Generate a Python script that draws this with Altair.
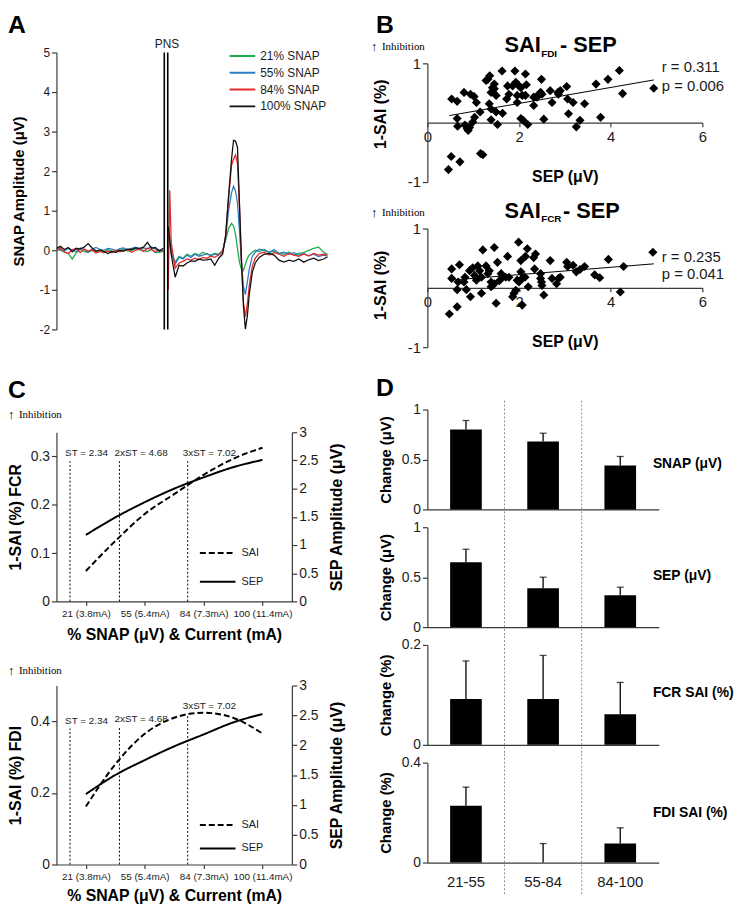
import altair as alt
import pandas as pd

SANS = "Liberation Sans"
SERIF = "Liberation Serif"
INK = "#1b1b1b"
AXC = "#3a3a3a"

# ---------------- Panel A: SNAP traces ----------------
A_TRACES = ["21% SNAP", "55% SNAP", "84% SNAP", "100% SNAP"]
A_COLORS = ["#1faa4b", "#2e7cc4", "#e52a2a", "#111111"]

A_T_PRE = [0.0, 0.4, 0.8, 1.2, 1.6, 2.0, 2.4, 2.8, 3.2, 3.6, 4.0, 4.4, 4.8, 5.2,
           5.6, 6.0, 6.4, 6.8, 7.2, 7.6, 8.0, 8.4, 8.8, 9.2, 9.6, 10.0, 10.4, 10.8]
A_PRE_21 = [0.02, 0.0, -0.05, -0.08, -0.22, -0.06, 0.02, -0.03, -0.06, 0.0, -0.04, -0.02, -0.06, 0.02,
            -0.02, -0.05, -0.01, 0.03, -0.02, 0.0, 0.04, 0.01, 0.0, -0.03, 0.02, -0.06, -0.05, -0.03]
A_PRE_55 = [0.04, 0.02, -0.02, 0.05, 0.01, -0.03, 0.06, 0.02, -0.04, 0.03, 0.07, 0.02, 0.0, 0.05,
            0.03, -0.01, 0.04, 0.06, 0.01, 0.05, 0.08, 0.03, 0.06, 0.04, 0.09, 0.02, -0.02, 0.01]
A_PRE_84 = [0.0, 0.06, -0.04, -0.08, 0.02, 0.04, -0.06, 0.03, -0.02, 0.01, -0.07, -0.03, -0.05, -0.02,
            -0.06, 0.0, -0.04, -0.01, 0.02, -0.05, 0.0, 0.04, -0.03, 0.05, 0.02, -0.04, 0.01, -0.03]
A_PRE_100 = [0.05, 0.10, 0.02, 0.07, -0.04, 0.05, 0.03, 0.08, 0.17, 0.06, -0.02, 0.01, -0.03, -0.08,
             -0.03, -0.05, 0.0, -0.02, 0.03, 0.02, 0.06, 0.05, 0.08, 0.20, 0.05, 0.07, -0.02, 0.05]

A_T_POST = [11.3, 11.45, 11.6, 12.0, 12.4, 12.8, 13.2, 13.6, 14.0, 14.4, 14.8, 15.2, 15.6, 16.0, 16.4,
            16.8, 17.1, 17.4, 17.7, 17.9, 18.1, 18.3, 18.5, 18.7, 18.9, 19.1, 19.3, 19.5, 19.8, 20.1,
            20.5, 21.0, 21.5, 22.0, 22.5, 23.0, 23.5, 24.0, 24.5, 25.0, 25.5, 26.0, 26.5, 27.0, 27.4]
A_POST_21 = [0.3, 0.15, -0.05, -0.3, -0.15, -0.2, -0.1, -0.15, -0.08, -0.12, -0.05, -0.1, -0.12, -0.08, -0.1,
             0.0, 0.25, 0.55, 0.68, 0.62, 0.4, 0.05, -0.3, -0.48, -0.51, -0.35, -0.2, -0.12, -0.05, 0.0,
             -0.03, 0.02, -0.05, -0.02, -0.08, -0.1, -0.05, -0.12, -0.08, -0.06, 0.0, 0.05, 0.08, -0.05, -0.1]
A_POST_55 = [0.4, 0.2, -0.05, -0.35, -0.18, -0.22, -0.12, -0.18, -0.1, -0.15, -0.12, -0.08, -0.14, -0.1, -0.12,
             -0.03, 0.3, 1.0, 1.45, 1.62, 1.5, 1.2, 0.5, -0.3, -0.9, -1.12, -0.8, -0.47, -0.15, -0.05,
             0.03, 0.0, -0.05, 0.02, -0.08, -0.05, -0.1, -0.06, -0.12, -0.08, -0.14, -0.1, -0.16, -0.12, -0.15]
A_POST_84 = [-1.0, 1.52, 0.2, -0.45, -0.32, -0.28, -0.22, -0.25, -0.2, -0.24, -0.18, -0.2, -0.15, -0.18, -0.12,
             -0.05, 0.35, 1.3, 2.15, 2.3, 2.41, 2.2, 1.1, -0.3, -1.3, -1.68, -1.35, -0.88, -0.4, -0.2,
             -0.08, -0.05, -0.12, -0.06, -0.1, -0.15, -0.08, -0.12, -0.15, -0.1, -0.14, -0.08, -0.12, -0.1, -0.12]
A_POST_100 = [0.6, 0.3, -0.1, -0.68, -0.38, -0.40, -0.32, -0.27, -0.28, -0.22, -0.25, -0.24, -0.22, -0.38, -0.20,
              -0.10, 0.37, 1.37, 2.3, 2.78, 2.76, 2.6, 1.2, -0.2, -1.4, -2.0, -1.65, -1.1, -0.55, -0.32,
              -0.18, -0.1, -0.08, -0.12, -0.25, -0.3, -0.25, -0.28, -0.22, -0.3, -0.24, -0.2, -0.26, -0.22, -0.17]
PNS_T = [10.9, 11.25]

# ---------------- Panel B: SAI vs SEP scatter ----------------
B1_SEP = [0.53, 0.65, 0.80, 0.94, 1.02, 1.07, 0.65, 0.66, 0.82, 0.87, 0.92, 0.89, 0.99, 1.03, 1.15, 0.52, 0.71,
          0.46, 1.16, 1.21, 1.28, 1.36, 1.32, 1.46, 1.42, 1.46, 1.39, 1.50, 1.35, 1.39, 1.50, 1.39, 1.53, 1.64,
          1.63, 1.75, 1.78, 1.73, 1.86, 1.93, 1.91, 2.00, 2.04, 1.96, 1.96, 2.07, 2.14, 2.16, 2.14, 2.04, 2.09,
          2.19, 2.32, 2.32, 2.39, 2.43, 2.47, 2.49, 2.50, 2.54, 2.68, 2.72, 2.85, 2.86, 2.90, 3.04, 3.06, 3.08,
          3.18, 3.25, 3.33, 3.43, 3.68, 3.78, 3.94, 4.19, 4.26, 4.94]
B1_SAI = [0.40, 0.36, 0.51, 0.48, 0.44, 0.34, 0.07, -0.06, -0.04, -0.10, -0.08, -0.13, 0.01, 0.09, 0.18, -0.57,
          -0.66, -0.79, -0.52, -0.54, 0.71, 0.79, 0.73, 0.65, 0.59, 0.57, 0.51, 0.46, 0.32, 0.23, 0.18, 0.05,
          -0.03, 0.16, 0.87, 0.62, 0.48, 0.40, 0.62, 0.68, 0.87, 0.62, 0.59, 0.46, 0.34, 0.46, 0.82, 0.64, 0.46,
          0.07, 0.04, -0.03, 0.43, 0.29, 0.43, 0.48, 0.51, 0.73, 0.48, 0.06, 0.54, 0.34, 0.51, 0.48, 0.54, 0.61,
          0.40, 0.15, 0.34, -0.07, 0.04, 0.32, 0.65, 0.09, 0.73, 0.88, 0.49, 0.58]
B1_FIT_X = [0.48, 4.94]
B1_FIT_Y = [0.12, 0.72]
B1_STATS = ["r = 0.311", "p = 0.006"]

B2_SEP = [0.48, 0.65, 0.53, 0.53, 0.70, 0.67, 0.65, 0.82, 0.80, 0.85, 0.92, 0.94, 0.99, 1.03, 1.07, 1.10, 1.14,
          1.18, 1.21, 1.18, 1.28, 1.32, 1.35, 1.39, 1.39, 1.42, 1.46, 1.46, 1.50, 1.53, 1.57, 1.61, 1.64, 1.71,
          1.75, 1.78, 1.86, 1.89, 1.93, 1.96, 1.99, 2.00, 2.04, 2.04, 2.07, 2.07, 2.13, 2.14, 2.18, 2.20, 2.32,
          2.36, 2.34, 2.47, 2.47, 2.49, 2.50, 2.54, 2.68, 2.72, 2.82, 2.86, 2.90, 3.04, 3.06, 3.18, 3.25, 3.33,
          3.43, 3.65, 3.76, 3.95, 4.21, 4.28, 4.92]
B2_SAI = [-0.44, -0.32, 0.32, 0.16, 0.39, 0.10, -0.03, 0.18, 0.10, -0.03, 0.29, -0.15, 0.34, 0.21, 0.13, 0.37,
          0.29, -0.09, 0.64, 0.18, 0.37, 0.24, 0.29, 0.10, 0.02, 0.04, 0.68, 0.07, -0.26, 0.43, 0.12, 0.24, 0.18,
          0.18, 0.53, 0.18, -0.15, -0.09, -0.04, 0.13, 0.77, 0.10, 0.46, 0.27, -0.29, 0.16, 0.18, 0.53, 0.66,
          0.02, 0.51, 0.57, 0.32, 0.24, 0.16, 0.10, 0.04, -0.12, 0.46, 0.16, 0.07, 0.16, 0.18, 0.43, 0.36, 0.38,
          0.27, 0.31, 0.36, 0.22, 0.17, 0.48, -0.07, 0.36, 0.60]
B2_FIT_X = [0.5, 4.94]
B2_FIT_Y = [0.13, 0.405]
B2_STATS = ["r = 0.235", "p = 0.041"]

# ---------------- Panel C: fitted curves ----------------
C_CATS = ["21 (3.8mA)", "55 (5.4mA)", "84 (7.3mA)", "100 (11.4mA)"]
C_X = [0, 0.5, 1, 1.5, 2, 2.5, 3]
C1_SAI = [0.063, 0.125, 0.181, 0.222, 0.262, 0.295, 0.318]
C1_SEP = [1.18, 1.49, 1.76, 2.0, 2.2, 2.38, 2.51]
C2_SAI = [0.162, 0.28, 0.365, 0.41, 0.424, 0.41, 0.366]
C2_SEP = [1.18, 1.5, 1.75, 1.98, 2.18, 2.38, 2.52]
ST_LABELS = ["ST = 2.34", "2xST = 4.68", "3xST = 7.02"]
ST_POS = [-0.27, 0.57, 1.73]
C1_ST_TOP = [0.29, 0.29, 0.29]
C2_ST_TOP = [0.38, 0.385, 0.42]

# ---------------- Panel D: change bars ----------------
D_CATS = ["21-55", "55-84", "84-100"]
D_SNAP = [0.80, 0.68, 0.44]
D_SNAP_SE = [0.09, 0.083, 0.09]
D_SEP = [0.65, 0.39, 0.32]
D_SEP_SE = [0.13, 0.11, 0.08]
D_FCR = [0.092, 0.092, 0.061]
D_FCR_SE = [0.076, 0.087, 0.064]
D_FDI = [0.227, 0.0, 0.076]
D_FDI_SE = [0.075, 0.076, 0.063]


def txt(text, x, y, size, weight="normal", font=SANS, align="left", baseline="alphabetic", color=INK):
    return alt.Chart(pd.DataFrame({"s": [text]})).mark_text(
        font=font, fontSize=size, fontWeight=weight, align=align, baseline=baseline, color=color
    ).encode(x=alt.value(x), y=alt.value(y), text="s:N")


def letter(ch, x, y):
    return txt(ch, x, y, 25, "bold", color="#000")


def inhib(x, y):
    return [txt("↑", x, y + 1, 13, "bold", font=SANS, color="#000"),
            txt("Inhibition", x + 11, y, 11, font=SERIF, color="#000")]


def spacer(h, w=1):
    return alt.Chart(pd.DataFrame({"v": [0]})).mark_point(opacity=0).encode(
        x=alt.X("v:Q", axis=None), y=alt.Y("v:Q", axis=None)).properties(width=w, height=h)


# ---------- build A ----------
rows = []
for name, pre, post in zip(A_TRACES, [A_PRE_21, A_PRE_55, A_PRE_84, A_PRE_100],
                           [A_POST_21, A_POST_55, A_POST_84, A_POST_100]):
    for t, v in zip(A_T_PRE, pre):
        rows.append({"t": t, "v": v, "trace": name, "seg": name + " pre"})
    for t, v in zip(A_T_POST, post):
        rows.append({"t": t, "v": v, "trace": name, "seg": name + " post"})
df_a = pd.DataFrame(rows)

a_lines = alt.Chart(df_a).mark_line(strokeWidth=1.3, clip=True).encode(
    x=alt.X("t:Q", scale=alt.Scale(domain=[0, 28], nice=False, zero=False), axis=None),
    y=alt.Y("v:Q", scale=alt.Scale(domain=[-2, 5], nice=False),
            axis=alt.Axis(values=list(range(-2, 6)), labelExpr="'' + datum.value", labelFontSize=12,
                          tickSize=5, labelPadding=2, title="SNAP Amplitude (μV)", titleFontSize=15,
                          titleFontWeight="bold", titleX=-30, titleBaseline="bottom")),
    color=alt.Color("trace:N", scale=alt.Scale(domain=A_TRACES, range=A_COLORS),
                    legend=alt.Legend(title=None, orient="none", legendX=174, legendY=-3,
                                      symbolType="stroke", symbolSize=676, symbolStrokeWidth=2,
                                      clipHeight=13, rowPadding=4, labelFontSize=12, labelFont=SANS,
                                      labelColor=INK, labelOffset=4, padding=0)),
    detail="seg:N",
)
a_pns = alt.Chart(pd.DataFrame({"t": PNS_T})).mark_rule(color="#000", strokeWidth=1.6).encode(x="t:Q")
a_pns_lbl = alt.Chart(pd.DataFrame({"t": [sum(PNS_T) / 2], "s": ["PNS"]})).mark_text(
    font=SANS, fontSize=12, color=INK, baseline="middle", dx=1
).encode(x="t:Q", y=alt.value(-9), text="s:N")
panel_a = alt.layer(a_lines, a_pns, a_pns_lbl, letter("A", -49, -20)).properties(width=280, height=280)


# ---------- build B ----------
def panel_b(xs, ys, fx, fy, stats, stats_y, sub, sub_x, ytitle_y, extra):
    pts = pd.DataFrame({"sep": xs, "sai": ys})
    fit = pd.DataFrame({"sep": fx, "sai": fy})
    xenc = alt.X("sep:Q", scale=alt.Scale(domain=[0, 6], nice=False),
                 axis=alt.Axis(values=[0, 2, 4, 6], offset=-60, labelFlush=False, labelFontSize=15,
                               tickSize=4, labelPadding=3, title="SEP (μV)", titleFontSize=16,
                               titleFontWeight="bold", titleY=54, titleBaseline="middle"))
    yenc = alt.Y("sai:Q", scale=alt.Scale(domain=[-1, 1], nice=False),
                 axis=alt.Axis(values=[-1, 1], labelExpr="'' + datum.value", labelFontSize=15,
                               tickSize=5, labelPadding=2, title="1-SAI (%)", titleFontSize=16,
                               titleFontWeight="bold", titleX=-39, titleY=ytitle_y,
                               titleBaseline="bottom"))
    dots = alt.Chart(pts).mark_point(shape="diamond", filled=True, size=85, color="#000",
                                     opacity=1).encode(x=xenc, y=yenc)
    line = alt.Chart(fit).mark_line(color="#000", strokeWidth=1).encode(x="sep:Q", y="sai:Q")
    return alt.layer(
        dots, line,
        txt("SAI", 78, -11, 22, "bold", color="#000"),
        txt(sub, 115, -6.5, 10, "bold", color="#000"),
        txt("- SEP", sub_x, -11, 22, "bold", color="#000"),
        txt(stats[0], 237, stats_y[0], 15, baseline="middle"),
        txt(stats[1], 237, stats_y[1], 15, baseline="middle"),
        *extra,
    ).properties(width=278, height=120)


panel_b1 = panel_b(B1_SEP, B1_SAI, B1_FIT_X, B1_FIT_Y, B1_STATS, [4, 23], "FDI", 134, 51,
                   [letter("B", -52, -31)] + inhib(-57, -13))
panel_b2 = panel_b(B2_SEP, B2_SAI, B2_FIT_X, B2_FIT_Y, B2_STATS, [29, 46], "FCR", 137, 57,
                   inhib(-57, -13))


# ---------- build C ----------
def panel_c(sai, sep, st_top, left_title, ymax, yvals, h, leg_y, leg_pad, xtitle_y, extra):
    cat_expr = "[" + ", ".join("'" + c + "'" for c in C_CATS) + "][datum.value]"
    xsc = alt.Scale(domain=[-0.5, 3.5], nice=False, zero=False)
    xax = alt.Axis(values=[0, 1, 2, 3], labelExpr=cat_expr, labelFontSize=10, tickSize=4, labelPadding=3,
                   title="% SNAP (μV) & Current (mA)", titleFontSize=16, titleFontWeight="bold",
                   titleY=xtitle_y, titleBaseline="middle")
    ysc = alt.Scale(domain=[0, ymax], nice=False)
    yax = alt.Axis(values=yvals, format="~g", labelFontSize=14, tickSize=5, labelPadding=2,
                   title=left_title, titleFontSize=16, titleFontWeight="bold", titleX=-33,
                   titleBaseline="bottom")
    dash = alt.StrokeDash(
        "series:N", scale=alt.Scale(domain=["SAI", "SEP"], range=[[6, 3], [1, 0]]),
        legend=alt.Legend(title=None, orient="none", legendX=144, legendY=leg_y, symbolType="stroke",
                          symbolSize=1296, symbolStrokeWidth=2, symbolStrokeColor="#000",
                          clipHeight=13, rowPadding=leg_pad, labelFontSize=11, labelFont=SANS,
                          labelColor=INK, labelOffset=5, padding=0))
    st = pd.DataFrame({"pos": ST_POS, "base": [0.0] * len(ST_POS), "top": st_top, "label": ST_LABELS})
    rules = alt.Chart(st).mark_rule(color="#000", strokeWidth=1, strokeDash=[2, 2]).encode(
        x=alt.X("pos:Q", scale=xsc, axis=xax), y=alt.Y("base:Q", scale=ysc, axis=yax), y2="top:Q")
    labels = alt.Chart(st).mark_text(font=SANS, fontSize=10, color=INK, align="left", baseline="middle",
                                     dx=-5, dy=-8).encode(x="pos:Q", y="top:Q", text="label:N")
    sai_df = pd.DataFrame({"pos": C_X, "sai": sai, "series": ["SAI"] * len(C_X)})
    sai_line = alt.Chart(sai_df).mark_line(color="#000", strokeWidth=2, interpolate="monotone").encode(
        x="pos:Q", y="sai:Q", strokeDash=dash)
    sep_df = pd.DataFrame({"pos": C_X, "sep": sep, "series": ["SEP"] * len(C_X)})
    sep_line = alt.Chart(sep_df).mark_line(color="#000", strokeWidth=2, interpolate="monotone").encode(
        x="pos:Q",
        y=alt.Y("sep:Q", scale=alt.Scale(domain=[0, 3], nice=False),
                axis=alt.Axis(orient="right", values=[0, 0.5, 1, 1.5, 2, 2.5, 3], format="~g",
                              labelFontSize=14, tickSize=5, labelPadding=2, title="SEP Amplitude (μV)",
                              titleFontSize=16, titleFontWeight="bold", titleAngle=270, titleX=53,
                              titleBaseline="bottom")),
        strokeDash=dash)
    left = alt.layer(rules, labels, sai_line, *extra)
    return alt.layer(left, sep_line).resolve_scale(y="independent").properties(width=238, height=h)


panel_c1 = panel_c(C1_SAI, C1_SEP, C1_ST_TOP, "1-SAI (%) FCR", 0.35,
                   [0, 0.05, 0.1, 0.15, 0.2, 0.25, 0.3, 0.35], 171, 115.5, 16, 34,
                   [letter("C", -49, -35)] + inhib(-49, -14))
panel_c2 = panel_c(C2_SAI, C2_SEP, C2_ST_TOP, "1-SAI (%) FDI", 0.5,
                   [0, 0.1, 0.2, 0.3, 0.4, 0.5], 181, 134.5, 10.7, 31, inhib(-49, -12))

# ---------- build D ----------
D_H = 101


def panel_d(vals, ses, ymax, yvals, ytitle, rlabel, rlabel_y, last, extra=()):
    df = pd.DataFrame({"cat": D_CATS, "val": vals, "hi": [v + s for v, s in zip(vals, ses)]})
    xsc = alt.Scale(domain=D_CATS, paddingInner=0, paddingOuter=0)
    if last:
        xax = alt.Axis(ticks=False, labelFontSize=15, labelPadding=12, labelAngle=0, title=None)
    else:
        xax = alt.Axis(ticks=False, labels=False, title=None)
    yax = alt.Axis(values=yvals, format="~g", labelFontSize=14, tickSize=5, labelPadding=2, title=ytitle,
                   titleFontSize=15, titleFontWeight="bold", titleX=-34, titleBaseline="bottom")
    bars = alt.Chart(df).mark_bar(color="#000", size=32).encode(
        x=alt.X("cat:N", scale=xsc, axis=xax, sort=D_CATS),
        y=alt.Y("val:Q", scale=alt.Scale(domain=[0, ymax], nice=False), axis=yax))
    err = alt.Chart(df).mark_rule(color="#000", strokeWidth=1.3).encode(
        x=alt.X("cat:N", sort=D_CATS), y="val:Q", y2="hi:Q")
    cap = alt.Chart(df).mark_tick(color="#000", size=7, thickness=1.3).encode(
        x=alt.X("cat:N", sort=D_CATS), y="hi:Q")
    sep = alt.Chart(pd.DataFrame({"cat": D_CATS[1:]})).mark_rule(
        color="#8a8a8a", strokeWidth=1, strokeDash=[2, 2]).encode(
        x=alt.X("cat:N", bandPosition=0, sort=D_CATS), y=alt.value(-9),
        y2=alt.value(D_H + (33 if last else 9)))
    lab = txt(rlabel, 228, rlabel_y, 14, "bold", baseline="middle", color="#000")
    return alt.layer(bars, err, cap, sep, lab, *extra).properties(width=234, height=D_H)


panel_d1 = panel_d(D_SNAP, D_SNAP_SE, 1, [0, 0.5, 1], "Change (μV)", "SNAP (μV)", 55, False,
                   [letter("D", -52, -14)])
panel_d2 = panel_d(D_SEP, D_SEP_SE, 1, [0, 0.5, 1], "Change (μV)", "SEP (μV)", 49, False)
panel_d3 = panel_d(D_FCR, D_FCR_SE, 0.2, [0, 0.2], "Change (%)", "FCR SAI (%)", 49, False)
panel_d4 = panel_d(D_FDI, D_FDI_SE, 0.4, [0, 0.4], "Change (%)", "FDI SAI (%)", 51, True)


def column(*charts):
    return alt.vconcat(*charts, spacing=0, bounds="flush").resolve_scale(
        color="independent", strokeDash="independent").resolve_legend(
        color="independent", strokeDash="independent")


left_col = column(panel_a, spacer(104, 300), panel_c1, spacer(85, 300), panel_c2)
right_col = column(spacer(11), panel_b1, spacer(47), panel_b2, spacer(63), panel_d1, spacer(18),
                   panel_d2, spacer(18), panel_d3, spacer(18), panel_d4)

chart = alt.hconcat(left_col, right_col, spacing=18, bounds="full").resolve_scale(
    color="independent", strokeDash="independent").resolve_legend(
    color="independent", strokeDash="independent").properties(padding=0)

chart = chart.configure(font=SANS).configure_view(stroke=None).configure_axis(
    domainColor=AXC, tickColor=AXC, labelColor=INK, titleColor="#000", domainWidth=1.2, tickWidth=1.2,
    grid=False, labelFont=SANS, titleFont=SANS)

chart.save("out.html", embed_options={"renderer": "svg", "actions": False})
